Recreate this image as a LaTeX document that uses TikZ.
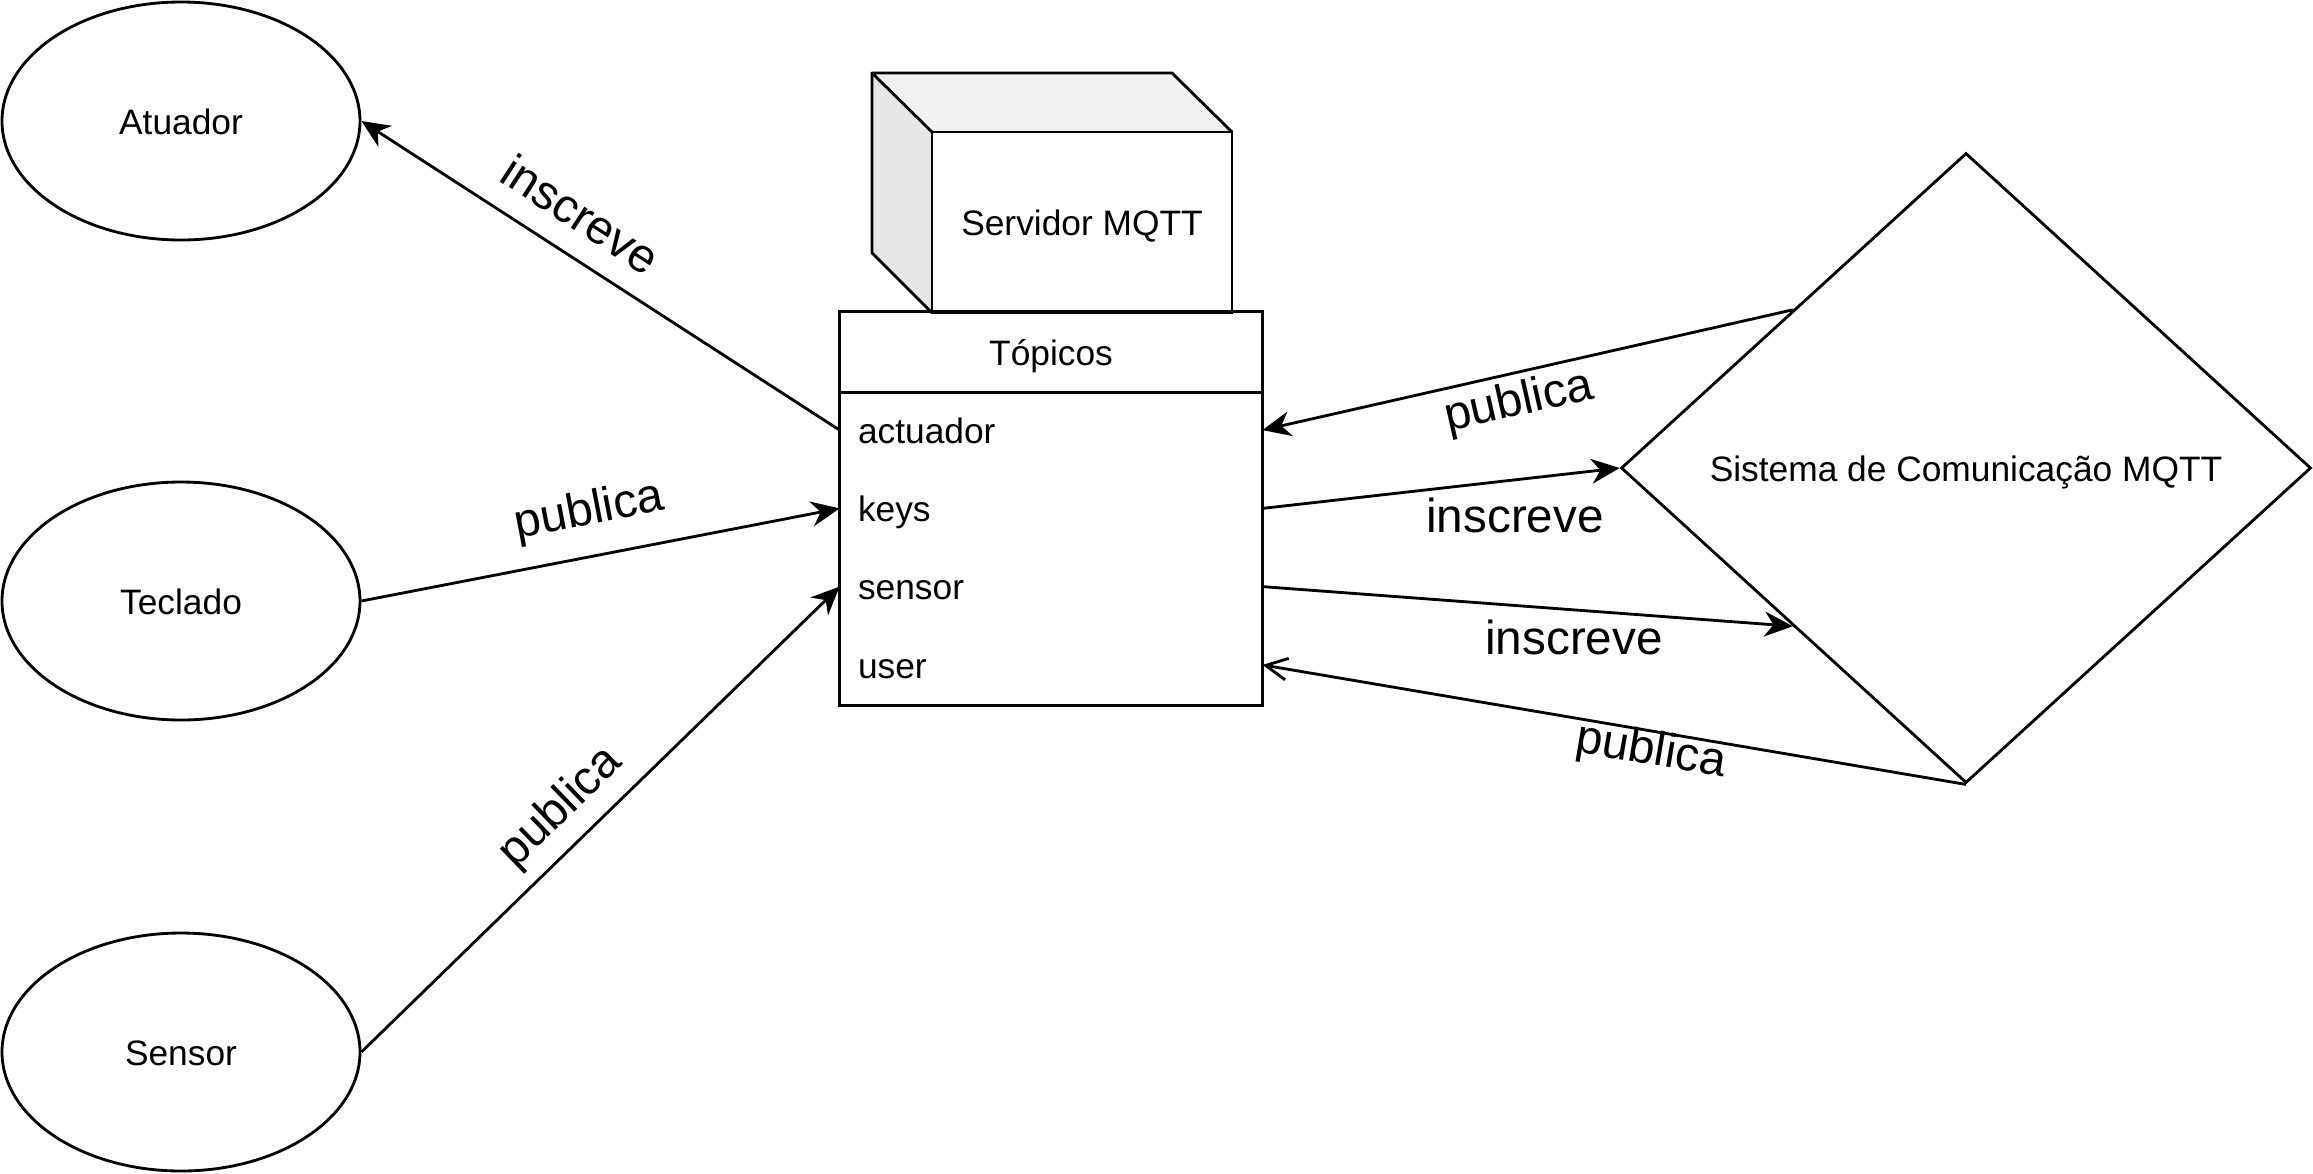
\documentclass[tikz,border=0pt]{standalone}
\usepackage{fontspec}
\setmainfont{Liberation Sans}
\usetikzlibrary{shapes.geometric,arrows.meta}
\definecolor{topface}{HTML}{F1F1F1}
\definecolor{sideface}{HTML}{E6E6E6}
\begin{document}
\begin{tikzpicture}[x=0.3pt,y=-0.3pt,
  line width=0.85pt,
  nodefont/.style={font=\fontsize{10.6}{12.7}\selectfont, text height=8pt, text depth=0pt},
  lblfont/.style={font=\fontsize{14.3}{17}\selectfont, inner sep=0pt},
  ell/.style={draw, ellipse, minimum width=107.4pt, minimum height=71.4pt, inner sep=0pt, nodefont},
  rowbox/.style={text width=115.8pt, inner xsep=5.1pt, inner ysep=0pt, minimum height=23.475pt, align=left, nodefont},
  arr/.style={-{Stealth[length=8.5pt,width=7.5pt,inset=2.7pt]}},
  openarr/.style={-{Straight Barb[length=6.5pt,width=6.5pt]}},
]
\useasboundingbox (0,0) rectangle (2313,1173);

% ellipses
\node[ell] (atu) at (181,121) {Atuador};
\node[ell] (tec) at (181,601) {Teclado};
\node[ell] (sen) at (181,1052) {Sensor};

% cube (Servidor MQTT)
\fill[topface] (872,73) -- (1172,73) -- (1232,132) -- (932,132) -- cycle;
\fill[sideface] (872,73) -- (932,132) -- (932,313) -- (872,253) -- cycle;
\draw[line join=round] (932,132) -- (872,73) -- (1172,73) -- (1232,132);
\draw (872,73) -- (872,253) -- (932,313);
\node[draw, minimum width=90pt, minimum height=54.3pt, inner sep=0pt, nodefont] (srv) at (1082,222.5) {Servidor MQTT};

% topics table
\node[minimum width=126pt, minimum height=23.4pt, inner sep=0pt, nodefont] (hdr) at (1051,352) {Tópicos};
\node[rowbox] (r1) at (1051,430.1) {actuador};
\node[rowbox] (r2) at (1051,508.4) {keys};
\node[rowbox] (r3) at (1051,586.6) {sensor};
\node[rowbox] (r4) at (1051,664.9) {user};
\draw[fill=none] (hdr.north west) rectangle (r4.south east);
\draw (hdr.south west) -- (hdr.south east);

% diamond
\node[draw, diamond, minimum width=207pt, minimum height=189pt, inner sep=0pt, nodefont] (dia) at (1966,468) {Sistema de Comunicação MQTT};

% connectors
\draw[arr] (r1.west) -- (atu.east);
\draw[arr] (tec.east) -- (r2.west);
\draw[arr] (sen.east) -- (r3.west);
\draw[arr] (dia.north west) -- (r1.east);
\draw[arr] (r2.east) -- (dia.west);
\draw[arr] (r3.east) -- (dia.south west);
\draw[openarr] (dia.south) -- (r4.east);

% labels
\node[lblfont, rotate=-32.9] (l1) at (581,214) {inscreve};
\node[lblfont, rotate=10.85] (l2) at (589,512) {publica};
\node[lblfont, rotate=44] (l3) at (561,808) {publica};
\node[lblfont, rotate=12.7] (l4) at (1519,403) {publica};
\node[lblfont] (l5) at (1515,515) {inscreve};
\node[lblfont] (l6) at (1574,637) {inscreve};
\node[lblfont, rotate=-9.5] (l7) at (1651,752) {publica};
\end{tikzpicture}
\end{document}
